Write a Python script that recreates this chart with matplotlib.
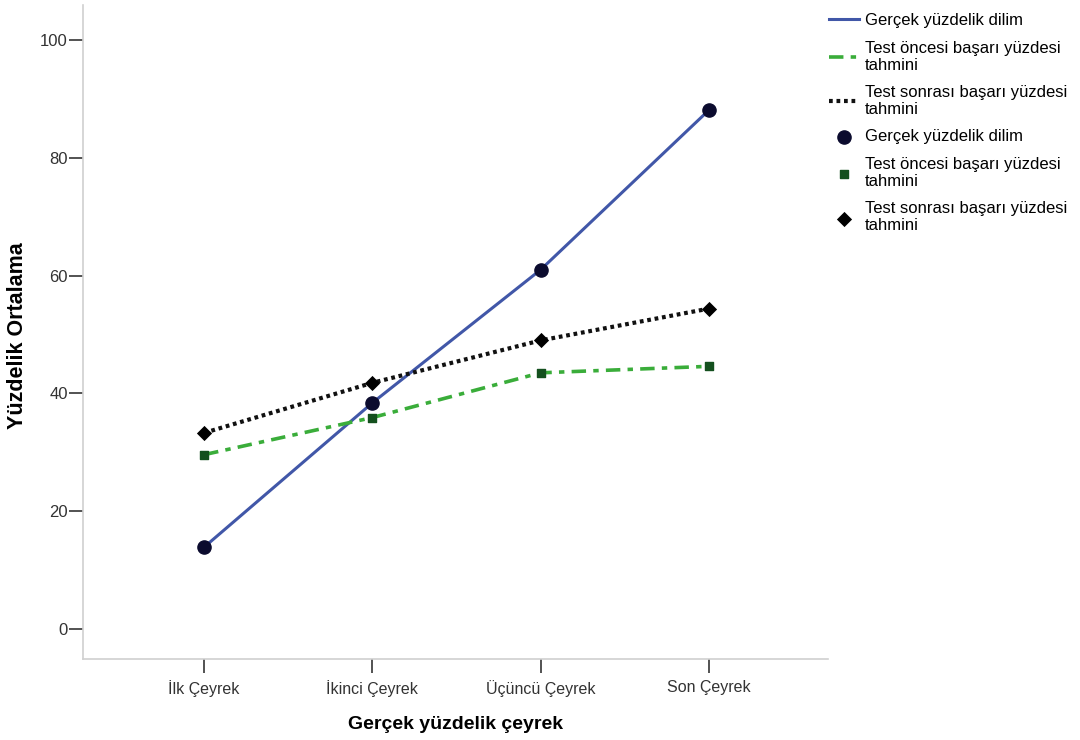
import matplotlib.pyplot as plt
import numpy as np

plt.rcParams['font.family'] = ['Liberation Sans', 'DejaVu Sans']

categories = ['İlk Çeyrek', 'İkinci Çeyrek', 'Üçüncü Çeyrek', 'Son Çeyrek']
gercek = [13.9, 38.4, 61.0, 88.1]
test_oncesi = [29.6, 35.9, 43.5, 44.6]
test_sonrasi = [33.3, 41.8, 49.0, 54.4]
yticks = [0, 20, 40, 60, 80, 100]

lbl_gercek = 'Gerçek yüzdelik dilim'
lbl_oncesi = 'Test öncesi başarı yüzdesi\ntahmini'
lbl_sonrasi = 'Test sonrası başarı yüzdesi\ntahmini'

fig = plt.figure(figsize=(10.8, 7.4), dpi=100)
ax = fig.add_axes([0.0769, 0.1095, 0.69, 0.884])

x = np.arange(len(categories))

# lines
ax.plot(x, gercek, color='#4157a8', lw=2.2, label=lbl_gercek, zorder=2)
ax.plot(x, test_oncesi, color='#3aad3a', lw=2.6, dashes=(4, 2, 1.5, 2),
        label=lbl_oncesi, zorder=2)
ax.plot(x, test_sonrasi, color='#111111', lw=3, dashes=(0.9, 0.9),
        label=lbl_sonrasi, zorder=2)

# markers
ax.scatter(x, gercek, s=90, marker='o', color='#0b0b2e', label=lbl_gercek, zorder=3)
ax.scatter(x, test_oncesi, s=40, marker='s', color='#14501e', label=lbl_oncesi, zorder=3)
ax.scatter(x, test_sonrasi, s=60, marker='D', color='#000000', label=lbl_sonrasi, zorder=3,
           linewidths=0)

ax.set_xlim(-0.72, 3.71)
ax.set_ylim(-5.1, 106)
ax.set_xticks(x)
ax.set_xticklabels(categories)
ax.set_yticks(yticks)

for side in ['top', 'right']:
    ax.spines[side].set_visible(False)
for side in ['left', 'bottom']:
    ax.spines[side].set_color('#d0d0d0')
    ax.spines[side].set_linewidth(1.2)

ax.tick_params(axis='both', colors='#444444', labelcolor='#333333', labelsize=12,
               length=10, width=1.3)
ax.tick_params(axis='y', pad=1)
ax.tick_params(axis='x', pad=5, labelsize=11.5)

ax.set_xlabel('Gerçek yüzdelik çeyrek', fontsize=14, fontweight='bold', labelpad=14)
ax.set_ylabel('Yüzdelik Ortalama', fontsize=15.5, fontweight='bold')
ax.yaxis.set_label_coords(-0.074, 0.494)

leg = ax.legend(loc='upper left', bbox_to_anchor=(0.985, 1.005), frameon=False,
                fontsize=12, handlelength=1.8, handletextpad=0.35,
                labelspacing=0.75, borderaxespad=0.3)
for t in leg.get_texts():
    t.set_linespacing(1.15)

plt.savefig('out.png', dpi=100)
